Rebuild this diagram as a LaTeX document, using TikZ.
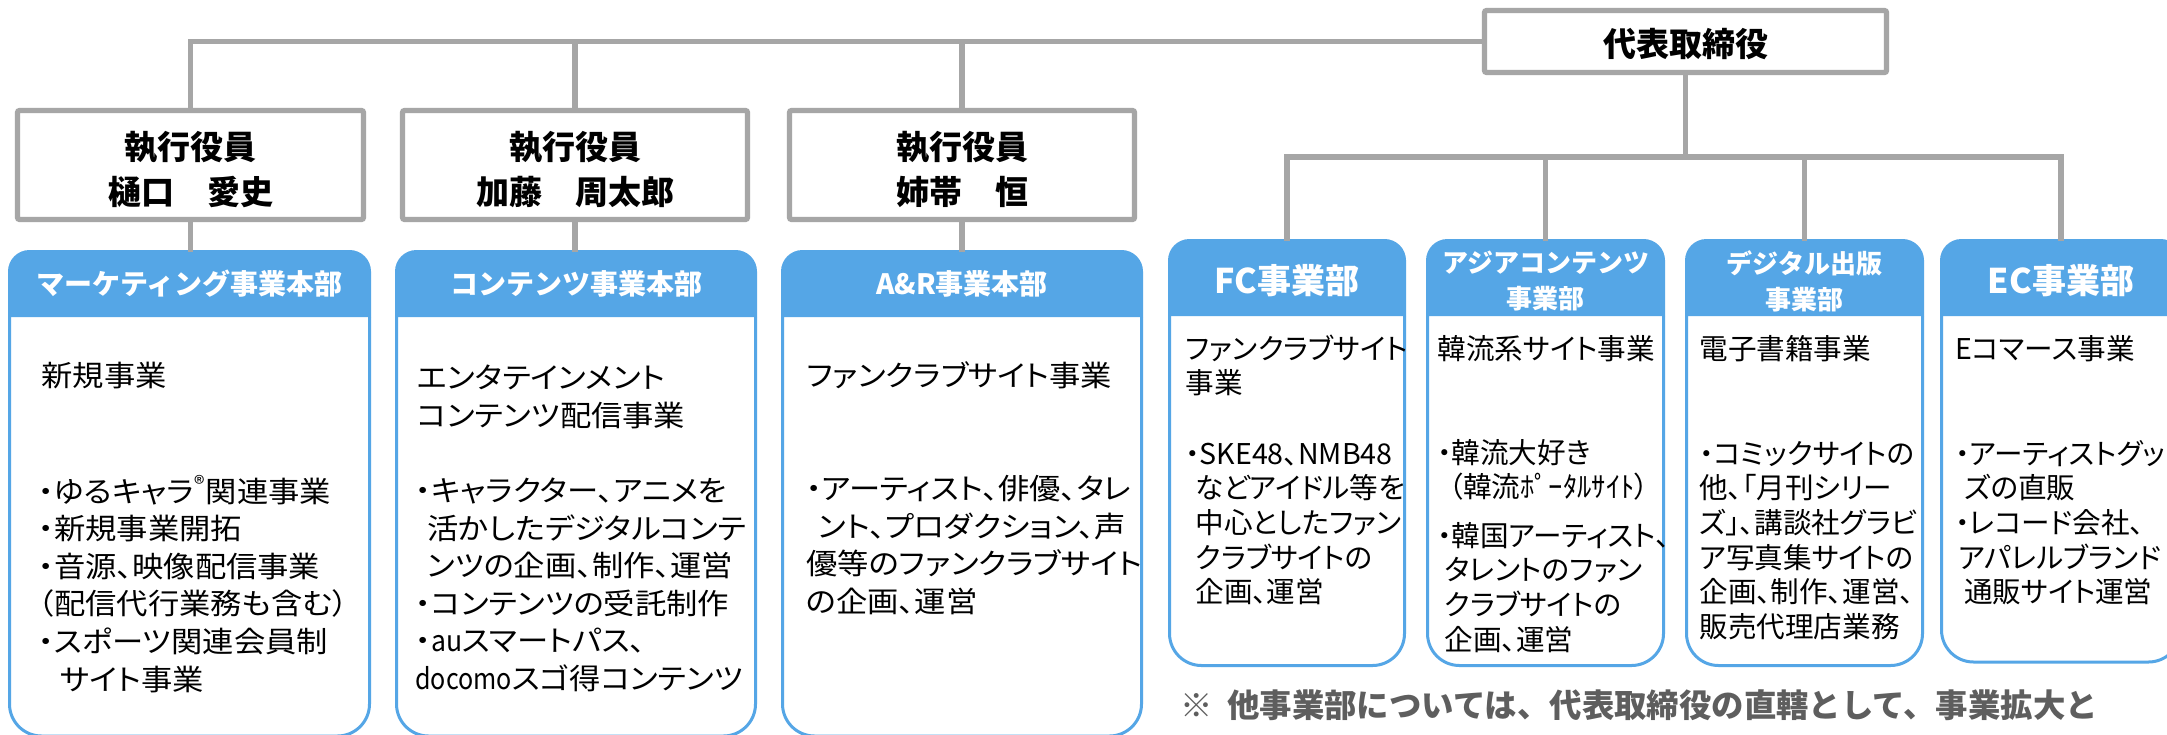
\documentclass[tikz,border=0pt]{standalone}
\usepackage{fontspec}
\setmainfont{Noto Sans CJK JP}
\newfontfamily\lbody{Noto Sans CJK JP}[RawFeature=+palt,FakeStretch=1.08]
\newfontfamily\rbody{Noto Sans CJK JP}[RawFeature=+palt]
\definecolor{linegray}{HTML}{A6A6A6}
\definecolor{hdrblue}{HTML}{55A6E6}
\definecolor{notegray}{HTML}{5E5E5E}
\newcommand{\fs}{\rule{0pt}{0.9em}}
% #1 name, #2 x1, #3 x2, #4 top, #5 header bottom, #6 bottom
\newcommand{\dbox}[6]{%
  \fill[hdrblue] (#2,#5) [rounded corners=10pt] -- (#2,#4) -- (#3,#4) [sharp corners] -- (#3,#5) -- cycle;
  \draw[boxline] (#2,#5) [rounded corners=16pt] -- (#2,#6) -- (#3,#6) -- (#3,#5);
  \draw[boxline] (#2,#5) [rounded corners=10pt] -- (#2,#4) -- (#3,#4) [sharp corners] -- (#3,#5);
  \coordinate (#1) at ({(#2+#3)/2},#4);
}
\begin{document}
\begin{tikzpicture}[x=0.5pt,y=-0.5pt,
  conn/.style={draw=linegray,line width=2.8pt},
  execbox/.style={draw=linegray,line width=2.6pt,fill=white,rounded corners=1pt,inner sep=0pt,minimum height=54.5pt},
  boldtxt/.style={font=\bfseries\fontsize{16.5pt}{22.5pt}\selectfont,align=center,inner sep=0pt},
  hdr/.style={font=\bfseries\fontsize{14pt}{18pt}\selectfont,text=white,align=center,inner sep=0pt},
  hdrbig/.style={hdr,font=\bfseries\fontsize{17pt}{18pt}\selectfont},
  hdrtwo/.style={hdr,font=\bfseries\fontsize{13pt}{18pt}\selectfont},
  ltxt/.style={anchor=north west,inner sep=0pt,align=left,font=\lbody\fontsize{14.5pt}{18.8pt}\selectfont},
  rtxt/.style={anchor=north west,inner sep=0pt,align=left,font=\rbody\fontsize{14.3pt}{17.35pt}\selectfont},
  notetxt/.style={anchor=base west,inner sep=0pt,text=notegray,font=\bfseries\fontsize{16.2pt}{18pt}\selectfont},
  boxline/.style={draw=hdrblue,line width=1.5pt}]
\useasboundingbox (0,0) rectangle (2167,734);
\fill[white] (0,0) rectangle (2167,734);

% executive boxes
\node[execbox,minimum width=201pt,minimum height=31pt] (ceo) at (1685.5,41.5) {};
\node[execbox,minimum width=173pt] (e1) at (190.5,165) {};
\node[execbox,minimum width=172.5pt] (e2) at (575,165) {};
\node[execbox,minimum width=172.5pt] (e3) at (962,165) {};

% department boxes
\dbox{b1}{9.5}{369.5}{251.5}{317}{736}
\dbox{b2}{396.5}{755.5}{251.5}{317}{736}
\dbox{b3}{782.5}{1141.5}{251.5}{317}{736}
\dbox{fc}{1169.5}{1404.5}{240.5}{316}{665.5}
\dbox{asia}{1427.5}{1663.5}{240.5}{316}{665.5}
\dbox{dig}{1686.5}{1922.5}{240.5}{316}{665.5}
\dbox{ec}{1941.5}{2180.5}{240.5}{316}{662}
\coordinate (bus) at (1685.5,157);

% connectors
\draw[conn] (ceo.west) -| (e1.north);
\draw[conn] (e2.north) -- (e2.north |- ceo.west);
\draw[conn] (e3.north) -- (e3.north |- ceo.west);
\draw[conn] (e1.south) -- (e1.south |- b1);
\draw[conn] (e2.south) -- (e2.south |- b2);
\draw[conn] (e3.south) -- (e3.south |- b3);
\draw[conn] (ceo.south) -- (bus);
\draw[conn] (fc) |- (bus -| ec) -- (ec);
\draw[conn] (asia) -- (asia |- bus);
\draw[conn] (dig) -- (dig |- bus);

% executive texts
\node[boldtxt] (ceot) at (1685.5,44) {代表取締役};
\node[boldtxt] (e1t) at (190.5,169.5) {執行役員\\樋口　愛史};
\node[boldtxt] (e2t) at (575,169.5) {執行役員\\加藤　周太郎};
\node[boldtxt] (e3t) at (962,169.5) {執行役員\\姉帯　恒};

% headers
\node[hdr] (h1) at (189.5,284) {マーケティング事業本部};
\node[hdr] (h2) at (576,284) {コンテンツ事業本部};
\node[hdr] (h3) at (962,284) {A\&R事業本部};
\node[hdrbig] (h4) at (1287,281) {FC事業部};
\node[hdrtwo] (h5) at (1545.5,281) {アジアコンテンツ\\事業部};
\node[hdrtwo] (h6) at (1804.5,281) {デジタル出版\\事業部};
\node[hdrbig] (h7) at (2061,281) {EC事業部};

% left bodies
\node[ltxt] (t1a) at (41,360) {\fs 新規事業};
\node[ltxt] (t1b) at (38,475) {\fs・ゆるキャラ\textsuperscript{®}関連事業\\%
・新規事業開拓\\%
・音源、映像配信事業\\%
（配信代行業務も含む）\\%
・スポーツ関連会員制\\%
\hspace*{0.75em}サイト事業};
\node[ltxt] (t2a) at (417,362) {\fs エンタテインメント\\%
コンテンツ配信事業};
\node[ltxt] (t2b) at (415,475) {\fs・キャラクター、アニメを\\%
\hspace*{0.4em}活かしたデジタルコンテ\\%
\hspace*{0.4em}ンツの企画、制作、運営\\%
・コンテンツの受託制作\\%
・\scalebox{0.85}[1]{au}スマートパス、\\%
\scalebox{0.8}[1]{docomo}スゴ得コンテンツ};
\node[ltxt] (t3a) at (806,360) {\fs ファンクラブサイト事業};
\node[ltxt] (t3b) at (806,473) {\fs・アーティスト、俳優、タレ\\%
\hspace*{0.4em}ント、プロダクション、声\\%
優等のファンクラブサイト\\%
の企画、運営};

% right bodies
\node[rtxt] (t4a) at (1185,333) {\fs ファンクラブサイト\\%
事業};
\node[rtxt] (t4b) at (1185,438) {\fs・SKE48、NMB48\\%
\hspace*{0.35em}などアイドル等を\\%
\hspace*{0.35em}中心としたファン\\%
\hspace*{0.35em}クラブサイトの\\%
\hspace*{0.35em}企画、運営};
\node[rtxt] (t5a) at (1437,333) {\fs 韓流系サイト事業};
\node[rtxt] (t5b) at (1437,437) {\fs・韓流大好き\\%
\hspace*{0.4em}（韓流ﾎﾟｰﾀﾙｻｲﾄ）};
\node[rtxt] (t5c) at (1437,520) {\fs・韓国アーティスト、\\%
\hspace*{0.25em}タレントのファン\\%
\hspace*{0.25em}クラブサイトの\\%
\hspace*{0.25em}企画、運営};
\node[rtxt] (t6a) at (1699,333) {\fs 電子書籍事業};
\node[rtxt] (t6b) at (1699,438) {\fs・コミックサイトの\\%
他、「月刊シリー\\%
ズ」、講談社グラビ\\%
ア写真集サイトの\\%
企画、制作、運営、\\%
販売代理店業務};
\node[rtxt] (t7a) at (1955,333) {\fs Eコマース事業};
\node[rtxt] (t7b) at (1955,438) {\fs・アーティストグッ\\%
\hspace*{0.3em}ズの直販\\%
・レコード会社、\\%
\hspace*{0.1em}アパレルブランド\\%
\hspace*{0.3em}通販サイト運営};

% note
\node[notetxt] (note) at (1180,717) {※\hspace{0.45em}他事業部については、代表取締役の直轄として、事業拡大と};
\end{tikzpicture}
\end{document}
